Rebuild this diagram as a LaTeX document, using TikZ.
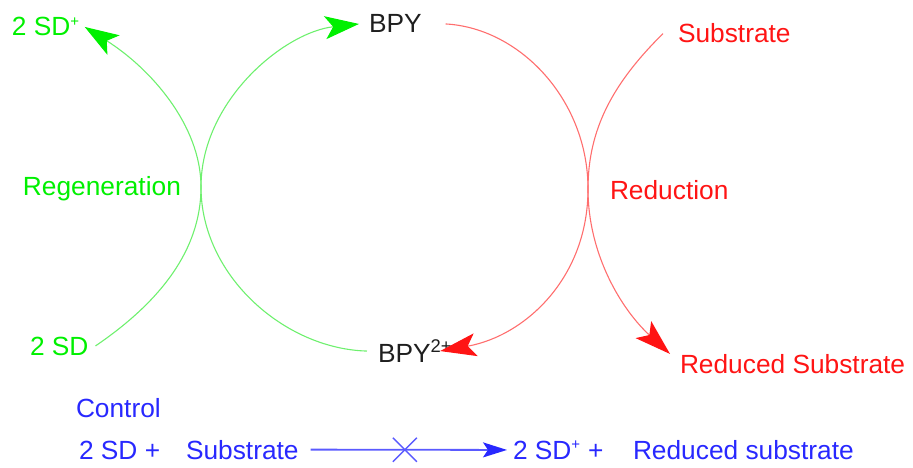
\documentclass[tikz,border=0pt]{standalone}
\usepackage{fontspec}
\setmainfont{Liberation Sans}
\usetikzlibrary{arrows.meta}
\definecolor{gtxt}{RGB}{0,240,0}
\definecolor{gln}{RGB}{110,240,110}
\definecolor{rtxt}{RGB}{255,20,20}
\definecolor{rln}{RGB}{255,110,110}
\definecolor{btxt}{RGB}{40,40,255}
\definecolor{bln}{RGB}{90,90,255}
\definecolor{ktxt}{RGB}{30,30,30}
\newcommand{\smallplus}{\textsuperscript{\fontsize{15}{15}\selectfont +}}
\tikzset{
  lbl/.style={inner sep=0pt, outer sep=0pt, anchor=base west, font=\fontsize{26.3}{30}\selectfont},
  gl/.style={draw=gln, line width=1.1pt},
  rl/.style={draw=rln, line width=1.1pt},
  bl/.style={draw=bln, line width=1.8pt},
  gtip/.style={-{Stealth[length=34pt,width=23pt,inset=8pt,color=gtxt]}},
  rtip/.style={-{Stealth[length=36pt,width=23pt,inset=8pt,color=rtxt]}},
  btip/.style={-{Stealth[length=24pt,width=15pt,inset=5pt,color=btxt]}},
}
\begin{document}
\begin{tikzpicture}[x=1pt,y=-1pt]
\useasboundingbox (0,0) rectangle (913,468);
% labels
\node[lbl,text=gtxt] (sdp) at (12,36) {2 SD\smallplus};
\node[lbl,text=ktxt] (bpy) at (369,33) {BPY};
\node[lbl,text=rtxt] (sub) at (678,43) {Substrate};
\node[lbl,text=gtxt] (regen) at (23,195) {Regeneration};
\node[lbl,text=rtxt] (red) at (610,200) {Reduction};
\node[lbl,text=gtxt] (sd) at (30,355) {2 SD};
\node[lbl,text=ktxt] (bpy2) at (378,362) {BPY\textsuperscript{2+}};
\node[lbl,text=rtxt] (rsub) at (680,373) {Reduced Substrate};
\node[lbl,text=btxt] (ctrl) at (76,417) {Control};
\node[lbl,text=btxt] (c1) at (79,459) {2 SD +};
\node[lbl,text=btxt] (c2) at (186,459) {Substrate};
\node[lbl,text=btxt] (c3) at (513,459) {2 SD\smallplus{} +};
\node[lbl,text=btxt] (c4) at (633,459) {Reduced substrate};
% touching points
\coordinate (gm) at (201,187);
\coordinate (rm) at (588,189);
% green inner arc BPY2+ -> BPY
\draw[gl,gtip] ([xshift=-11pt]bpy2.west) .. controls (285,349) and (201,276) .. (gm)
  .. controls (201,100) and (285,32) .. ([xshift=-10pt]bpy.west);
% green outer arc 2 SD -> 2 SD+
\draw[gl,gtip] ([xshift=7pt]sd.east) .. controls (160,302) and (201,250) .. (gm)
  .. controls (201,125) and (150,68) .. ([xshift=5pt]sdp.east);
% red inner arc BPY -> BPY2+
\draw[rl,rtip] ([xshift=24pt]bpy.east) .. controls (520,28) and (588,100) .. (rm)
  .. controls (588,278) and (525,336) .. ([xshift=-12pt]bpy2.east);
% red outer arc Substrate -> Reduced Substrate
\draw[rl,rtip] ([xshift=-15pt]sub.west) .. controls (612,84) and (588,130) .. (rm)
  .. controls (588,255) and (622,310) .. ([xshift=-10pt]rsub.north west);
% control line
\draw[bl,btip] ([xshift=12pt]c2.east) -- ([xshift=-6pt]c3.west) coordinate[pos=0.48] (xm);
\draw[bl,line width=1.4pt] ([shift={(-12,-12)}]xm) -- ([shift={(12,12)}]xm)
  ([shift={(-12,12)}]xm) -- ([shift={(12,-12)}]xm);
\end{tikzpicture}
\end{document}
